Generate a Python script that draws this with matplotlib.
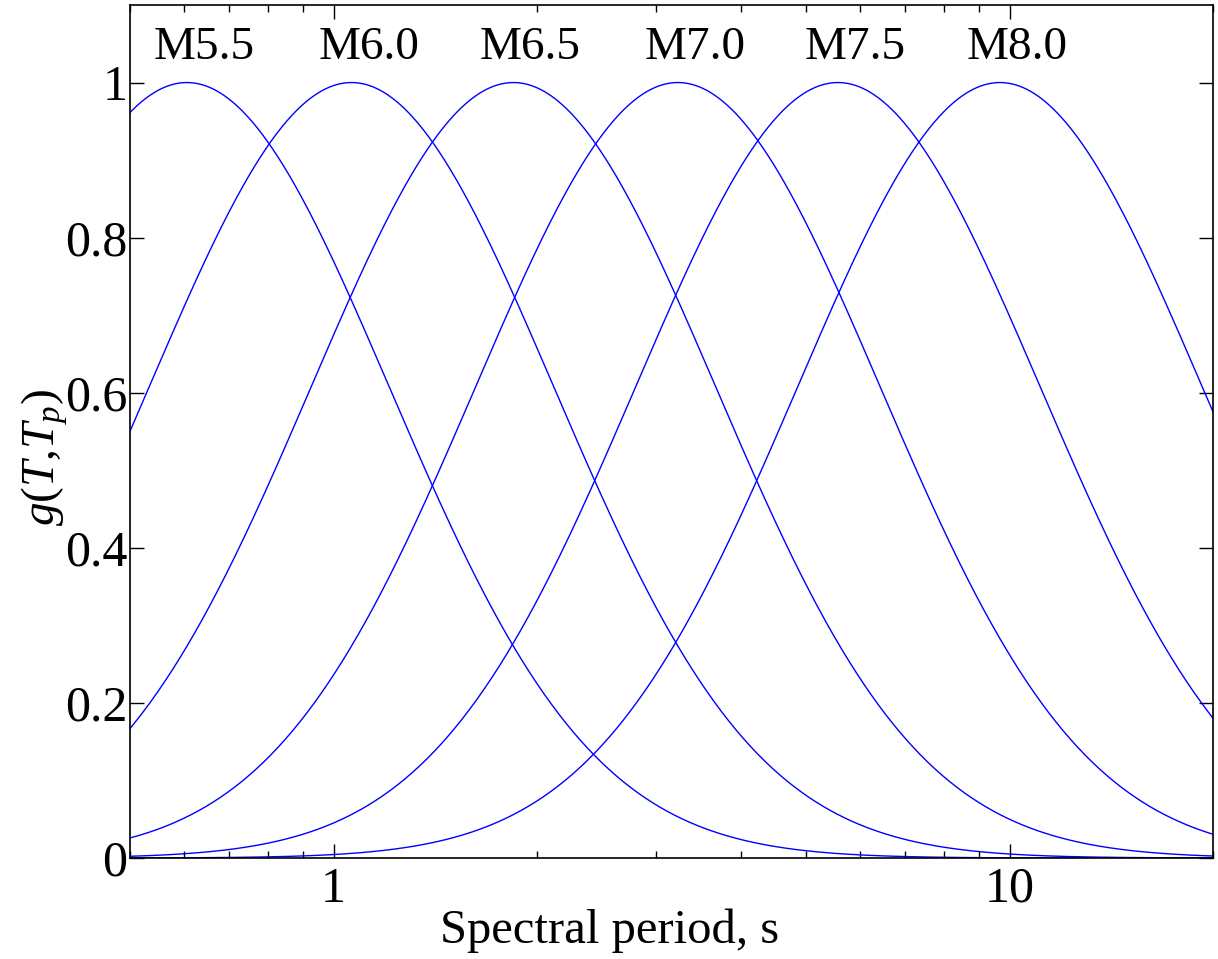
import numpy as np
import matplotlib
matplotlib.use("Agg")
import matplotlib.pyplot as plt
from matplotlib.ticker import FuncFormatter

# Data
magnitudes = ["M5.5", "M6.0", "M6.5", "M7.0", "M7.5", "M8.0"]
peak_periods = [0.607, 1.063, 1.845, 3.23, 5.57, 9.67]   # Tp (s)
sigma_ln = 0.69                                            # log-normal width
y_ticks = [0, 0.2, 0.4, 0.6, 0.8, 1.0]

plt.rcParams['font.family'] = ['Liberation Serif', 'DejaVu Serif']
plt.rcParams['mathtext.fontset'] = 'custom'
plt.rcParams['mathtext.rm'] = 'Liberation Serif'
plt.rcParams['mathtext.it'] = 'Liberation Serif:italic'

fig = plt.figure(figsize=(12.18, 9.59), dpi=100)
ax = fig.add_axes([0.1067, 0.1053, 0.8895, 0.8895])

T = np.logspace(np.log10(0.5), np.log10(20), 600)
for Tp in peak_periods:
    g = np.exp(-np.log(T / Tp) ** 2 / (2 * sigma_ln ** 2))
    ax.plot(T, g, color='#0000ff', lw=1.0)

for name, Tp in zip(magnitudes, peak_periods):
    ax.text(Tp * 1.06, 1.045, name, ha='center', va='center', fontsize=34)

ax.set_xscale('log')
ax.set_xlim(0.5, 20)
ax.set_ylim(0, 1.1)
ax.set_yticks(y_ticks)
ax.yaxis.set_major_formatter(FuncFormatter(lambda v, p: f"{v:g}"))
ax.xaxis.set_major_formatter(FuncFormatter(lambda v, p: f"{v:g}"))
ax.tick_params(which='both', direction='in', top=True, right=True, labelsize=36)
ax.tick_params(which='major', length=10, width=1)
ax.tick_params(which='minor', length=5, width=1)
ax.tick_params(axis='x', pad=6)
ax.tick_params(axis='y', pad=2)
for s in ax.spines.values():
    s.set_linewidth(1.2)

ax.set_xlabel('Spectral period, s', fontsize=35)
ax.xaxis.set_label_coords(0.443, -0.059, transform=ax.transAxes)
ax.xaxis.label.set_va('top')
ax.set_ylabel(r'$\mathit{g(T{,}T_p)}$', fontsize=34)
ax.yaxis.set_label_coords(-0.079, 0.47, transform=ax.transAxes)
ax.yaxis.label.set_va('center')

fig.savefig('out.png', dpi=100)
